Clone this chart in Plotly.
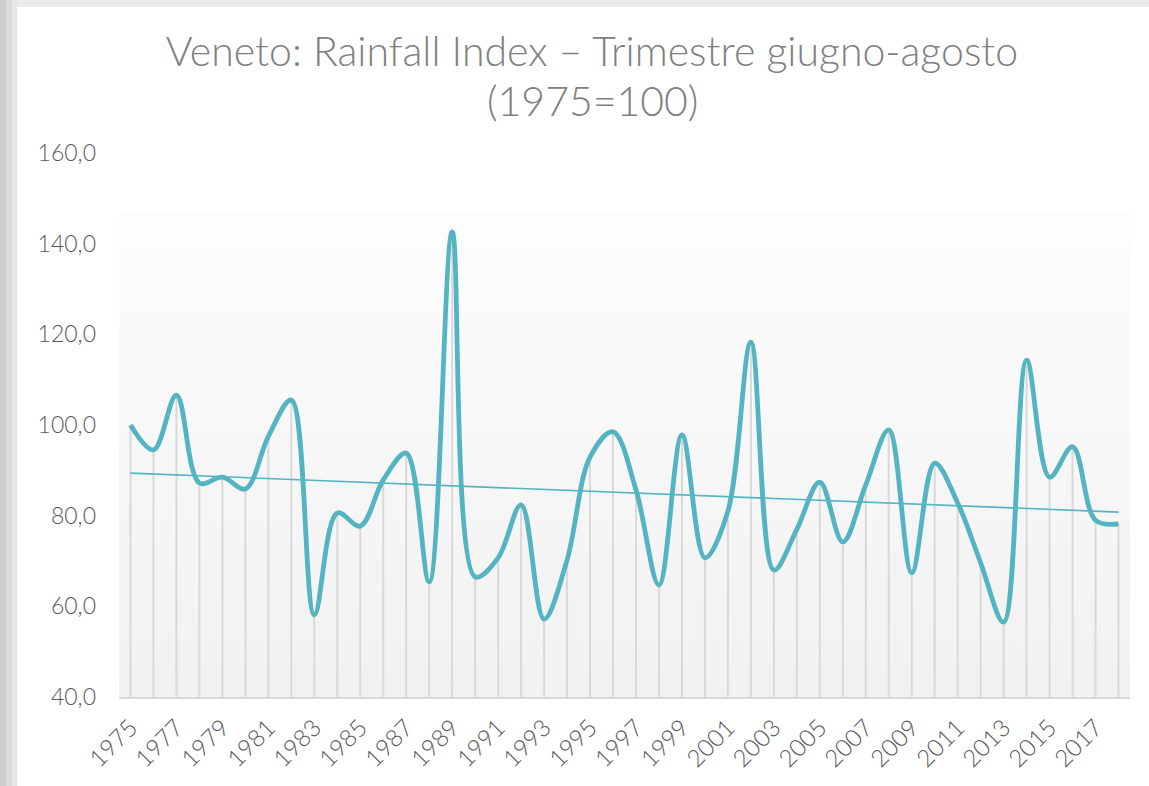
import numpy as np
import plotly.graph_objects as go

years = list(range(1975, 2019))
rainfall_index = [100.0, 94.5, 106.6, 87.2, 88.5, 85.9, 97.5, 105.5, 58.1, 80.6,
                  77.7, 87.9, 93.8, 65.4, 142.6, 66.5, 70.7, 82.4, 57.2, 70.2,
                  92.9, 98.5, 85.7, 64.7, 97.8, 70.7, 81.0, 118.3, 68.0, 77.0,
                  87.4, 74.2, 86.8, 98.9, 67.4, 91.6, 82.8, 69.6, 56.5, 114.3,
                  88.5, 95.2, 79.0, 78.2]
tick_years = list(range(1975, 2018, 2))
y_min, y_max, y_step = 40, 160, 20
title_line1 = "Veneto: Rainfall Index – Trimestre giugno-agosto"
title_line2 = "(1975=100)"

LINE = "#55b4c2"
GREY_TXT = "#595959"
TITLE_GREY = "#808080"
FONT = "Lato"

# linear trend (Excel-style linear trendline)
slope, intercept = np.polyfit(years, rainfall_index, 1)
trend = [slope * y + intercept for y in years]

# drop lines from each point down to the axis minimum
dx, dy = [], []
for yr, v in zip(years, rainfall_index):
    dx += [yr, yr, None]
    dy += [y_min, v, None]

fig = go.Figure()

# plot-area gradient background
bx0, bx1 = years[0] - 0.5, years[-1] + 0.5
fig.add_trace(go.Scatter(
    x=[bx0, bx1, bx1, bx0, bx0], y=[y_min, y_min, 147, 147, y_min],
    mode="lines", line=dict(width=0), fill="toself",
    fillgradient=dict(type="vertical", start=y_min, stop=147,
                      colorscale=[[0, "#f1f1f1"], [1, "#fdfdfd"]]),
    hoverinfo="skip", showlegend=False))

fig.add_trace(go.Scatter(x=dx, y=dy, mode="lines",
                         line=dict(color="#d9d9d9", width=2),
                         hoverinfo="skip", showlegend=False))

fig.add_trace(go.Scatter(x=years, y=trend, mode="lines",
                         line=dict(color=LINE, width=1.6),
                         showlegend=False))

fig.add_trace(go.Scatter(x=years, y=rainfall_index, mode="lines",
                         line=dict(color=LINE, width=4.8, shape="spline", smoothing=1),
                         showlegend=False))

# frame shadow (left and top bands)
L, R, T, B = 119, 19, 153, 89
W, H = 1149, 786
pw, ph = W - L - R, H - T - B
def px2x(px):
    return (px - L) / pw
def py2y(py):
    return 1 - (py - T) / ph

shapes = [
    dict(type="rect", xref="paper", yref="paper", x0=px2x(0), x1=px2x(6),
         y0=py2y(H), y1=py2y(0), fillcolor="#cdcdcd", line_width=0, layer="below"),
    dict(type="rect", xref="paper", yref="paper", x0=px2x(6), x1=px2x(12),
         y0=py2y(H), y1=py2y(0), fillcolor="#dadada", line_width=0, layer="below"),
    dict(type="rect", xref="paper", yref="paper", x0=px2x(12), x1=px2x(17),
         y0=py2y(H), y1=py2y(0), fillcolor="#e6e6e6", line_width=0, layer="below"),
    dict(type="rect", xref="paper", yref="paper", x0=px2x(17), x1=px2x(W),
         y0=py2y(7), y1=py2y(0), fillcolor="#ebebeb", line_width=0, layer="below"),
]

title_font = dict(family=FONT, size=41, color=TITLE_GREY, weight=300)

fig.update_layout(
    width=W, height=H,
    margin=dict(l=L, r=R, t=T, b=B),
    paper_bgcolor="white", plot_bgcolor="white",
    separators=",.",
    shapes=shapes,
    title=dict(text=title_line1, x=592 / W, xanchor="center",
               y=1 - 52 / H, yanchor="middle", font=title_font),
    annotations=[dict(text=title_line2, xref="paper", yref="paper",
                      x=px2x(592), y=py2y(100), xanchor="center", yanchor="middle",
                      showarrow=False, font=title_font)],
    xaxis=dict(range=[bx0, bx1], tickmode="array", tickvals=tick_years,
               ticktext=[str(t) for t in tick_years], tickangle=-45,
               showgrid=False, zeroline=False, showline=True,
               linecolor="#d9d9d9", linewidth=2, ticks="",
               ticklabelstandoff=5,
               tickfont=dict(family=FONT, size=24, color=GREY_TXT, weight=300)),
    yaxis=dict(range=[y_min, y_max], dtick=y_step, tick0=y_min, tickformat=".1f",
               showgrid=False, zeroline=False, showline=False, ticks="",
               ticklabelstandoff=22,
               tickfont=dict(family=FONT, size=23, color=GREY_TXT, weight=300)),
)

fig.write_html("out.html", config={"displayModeBar": False},
               post_script="document.body.style.margin='0px';")
